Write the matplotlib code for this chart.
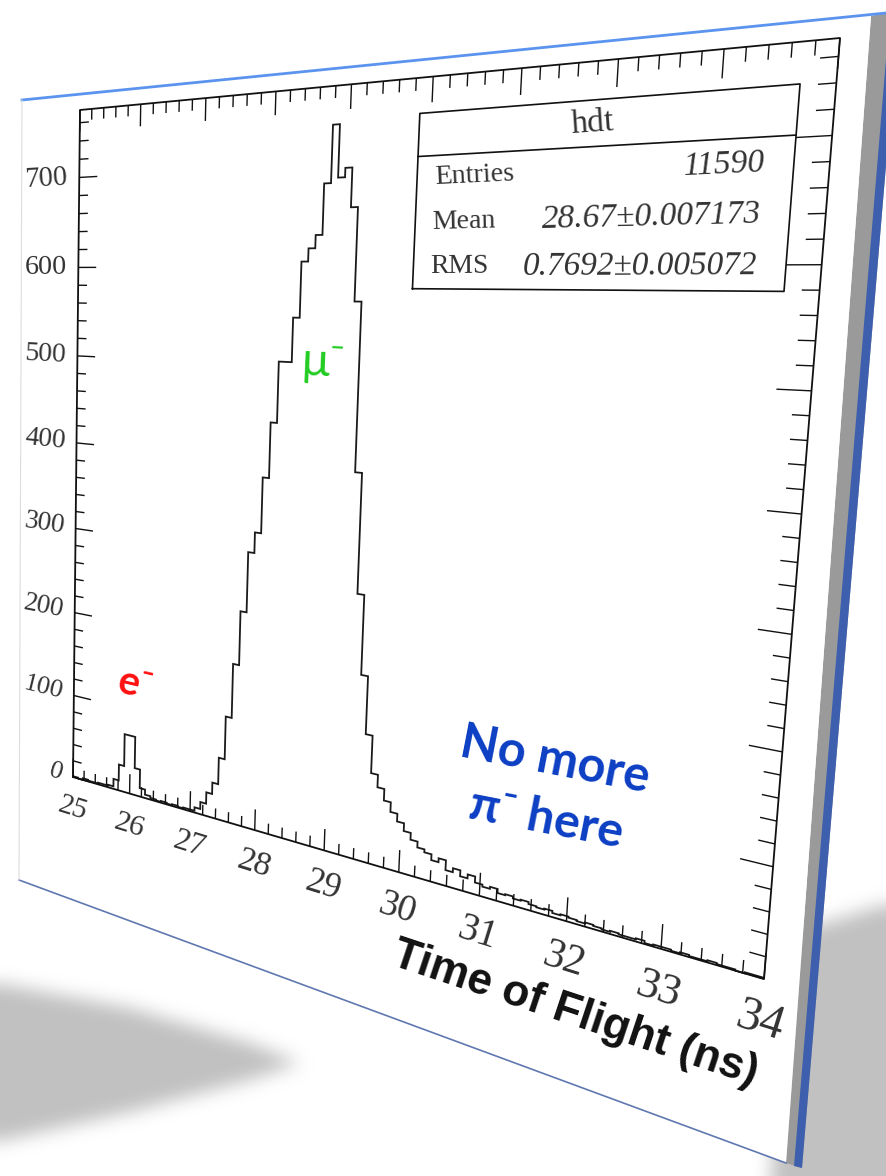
import numpy as np
import matplotlib
matplotlib.use("Agg")
import matplotlib.pyplot as plt
from matplotlib.transforms import Transform
from matplotlib.patches import Polygon
from matplotlib.collections import LineCollection
from matplotlib.path import Path

# ROOT histogram "hdt": 100 bins on [25, 34] ns, counts
x_lo, x_hi = 25.0, 34.0
counts = [1, 0, 2, 1, 1, 2, 2, 3, 12, 31,
          69, 69, 32, 10, 4, 2, 1, 2, 1, 2,
          1, 2, 2, 6, 14, 27, 40, 70, 118, 178,
          237, 302, 324, 383, 441, 504, 504, 549, 605, 618,
          631, 681, 737, 686, 695, 657, 566, 398, 276, 194,
          134, 95, 82, 70, 60, 52, 44, 37, 31, 28,
          22, 26, 16, 20, 14, 18, 12, 10, 12, 8,
          9, 7, 8, 6, 5, 6, 4, 5, 4, 3,
          4, 3, 2, 3, 2, 2, 3, 1, 2, 2,
          1, 2, 1, 1, 2, 1, 1, 0, 1, 1]
edges = np.linspace(x_lo, x_hi, len(counts) + 1)
y_top = 1.05 * max(counts)          # ROOT keeps 5% headroom

x_major = list(range(25, 35))
x_minor = [round(25 + 0.2 * i, 1) for i in range(46)]
y_major = [0, 100, 200, 300, 400, 500, 600, 700]
y_minor = list(range(0, 780, 20))

stat_title = 'hdt'
stat_names = ['Entries', 'Mean', 'RMS']
stat_values = ['11590', '28.67\u00b10.007173', '0.7692\u00b10.005072']
x_title = 'Time of Flight (ns)'

# ---- layout of the tilted sheet (reference pixels, y down) ----
W, H = 886, 1176
frame_px = {(0, 0): (73, 777), (1, 0): (764, 979), (1, 1): (840, 38), (0, 1): (80, 110)}
sheet = [(22, 100), (871, 16), (786, 1163), (19, 880)]
side = [(871, 16), (899, 10), (802, 1168), (786, 1163)]
side_blue = [(890, 11), (899, 10), (802, 1168), (794, 1166)]
shadows = [[(-30, 978), (130, 1008), (250, 1043), (300, 1063), (250, 1080), (130, 1112), (-30, 1148)],
           [(785, 935), (900, 900), (900, 1200), (770, 1200)]]


def homography(pairs):
    A, b = [], []
    for (u, v), (X, Y) in pairs.items():
        A.append([u, v, 1, 0, 0, 0, -u * X, -v * X]); b.append(X)
        A.append([0, 0, 0, u, v, 1, -u * Y, -v * Y]); b.append(Y)
    h = np.linalg.solve(np.array(A, float), np.array(b, float))
    return np.append(h, 1).reshape(3, 3)


class Perspective(Transform):
    input_dims = output_dims = 2
    is_separable = False
    has_inverse = True

    def __init__(self, M):
        super().__init__()
        self.M = np.asarray(M, float)

    def transform_non_affine(self, values):
        xy = np.asarray(values, float)
        shp = xy.shape
        xy = xy.reshape(-1, 2)
        p = np.column_stack([xy, np.ones(len(xy))]) @ self.M.T
        return (p[:, :2] / p[:, 2:3]).reshape(shp)

    def inverted(self):
        return Perspective(np.linalg.inv(self.M))


def blur(a, r, axis):
    pad = [(0, 0), (0, 0)]
    pad[axis] = (r + 1, r)
    c = np.cumsum(np.pad(a, pad, mode='edge'), axis=axis)
    n = a.shape[axis]
    hi = np.take(c, np.arange(2 * r + 1, 2 * r + 1 + n), axis=axis)
    lo = np.take(c, np.arange(0, n), axis=axis)
    return (hi - lo) / (2 * r + 1)


fig = plt.figure(figsize=(W / 100, H / 100), dpi=100, facecolor='white')
bg = fig.add_axes([0, 0, 1, 1])
bg.set_axis_off()

# soft drop shadow
yy, xx = np.mgrid[0:H, 0:W] + 0.5
pts = np.column_stack([xx.ravel(), yy.ravel()])
mask = np.zeros(H * W)
for poly in shadows:
    mask = np.maximum(mask, Path(poly).contains_points(pts))
mask = mask.reshape(H, W)
for _ in range(3):
    mask = blur(blur(mask, 8, 0), 8, 1)
rgba = np.zeros((H, W, 4))
rgba[..., :3] = 0.76
rgba[..., 3] = mask
bg.imshow(rgba, extent=(0, W, H, 0), aspect='auto', interpolation='bilinear', zorder=0)
bg.set_xlim(0, W)
bg.set_ylim(H, 0)

# the sheet itself
bg.add_patch(Polygon(side, closed=True, fc='#9a9a9a', ec='none', zorder=1))
bg.add_patch(Polygon(side_blue, closed=True, fc='#3d5fae', ec='none', zorder=1))
bg.add_patch(Polygon(sheet, closed=True, fc='white', ec='none', zorder=2))
bg.plot([sheet[0][0], 886], [sheet[0][1], 13], color='#5b94ee', lw=2, zorder=3)
bg.plot([sheet[3][0], sheet[2][0]], [sheet[3][1], sheet[2][1]], color='#6078b0', lw=1.2, zorder=3)
bg.plot([sheet[0][0], sheet[3][0]], [sheet[0][1], sheet[3][1]], color='#dddddd', lw=0.8, zorder=3)

# hidden axes: only its data -> unit square scales are used, then the perspective map
hx = fig.add_axes([0, 0, 1, 1])
hx.set_axis_off()
hx.set_xlim(x_lo, x_hi)
hx.set_ylim(0, y_top)
Tu = Perspective(homography(frame_px)) + bg.transData
T = hx.transScale + hx.transLimits + Tu


def local(u, v, d=1e-3):
    p0, pu, pv = Tu.transform(np.array([(u, v), (u + d, v), (u, v + d)]))
    eu, ev = (pu - p0) / d, (pv - p0) / d
    return np.degrees(np.arctan2(eu[1], eu[0])), np.sqrt(abs(eu[0] * ev[1] - eu[1] * ev[0]))


s0 = local(0, 0)[1]


def put(x, y, s, size, data=True, rot=None, **kw):
    u, v = hx.transLimits.transform((x, y)) if data else (x, y)
    ang, sc = local(u, v)
    return hx.text(u, v, s, transform=Tu, rotation=ang if rot is None else rot,
                   rotation_mode='anchor', fontsize=size * sc / s0, clip_on=False, **kw)


serif = 'Liberation Serif'
hx.stairs(counts, edges, baseline=0, color='#1a1a1a', lw=1.3, transform=T, clip_on=False)
hx.plot([x_lo, x_hi, x_hi, x_lo, x_lo], [0, 0, y_top, y_top, 0], color='#111111',
        lw=1.3, transform=T, clip_on=False)

tx_major, tx_minor = 0.03 * y_top, 0.015 * y_top
ty_major, ty_minor = 0.034 * (x_hi - x_lo), 0.017 * (x_hi - x_lo)
segs = []
for xv in x_minor:
    L = tx_major if abs(xv - round(xv)) < 1e-6 else tx_minor
    segs += [[(xv, 0), (xv, L)], [(xv, y_top), (xv, y_top - L)]]
for yv in y_minor:
    L = ty_major if yv % 100 == 0 else ty_minor
    segs += [[(x_lo, yv), (x_lo + L, yv)], [(x_hi, yv), (x_hi - L, yv)]]
hx.add_collection(LineCollection(segs, colors='#111111', linewidths=1.0, transform=T,
                                 clip_on=False), autolim=False)

for xv in x_major:
    put(xv, -0.05 * y_top, str(xv), 21, ha='center', va='center', family=serif,
        style='normal', color='#333333')
for yv in y_major:
    put(x_lo - 0.022 * (x_hi - x_lo), yv, str(yv), 19, ha='right', va='center',
        family=serif, style='normal', color='#333333')

# statistics box
u0, u1, v0, v1, vt = 0.54, 0.966, 0.748, 0.958, 0.907
hx.plot([u0, u1, u1, u0, u0], [v0, v0, v1, v1, v0], color='#111111', lw=1.2, transform=Tu, clip_on=False)
hx.plot([u0, u1], [vt, vt], color='#111111', lw=1.2, transform=Tu, clip_on=False)
put((u0 + u1) / 2, (vt + v1) / 2, stat_title, 15, data=False, ha='center', va='center',
    family=serif, style='normal', color='#333333')
for i, (name, val) in enumerate(zip(stat_names, stat_values)):
    vc = vt - (vt - v0) * (i + 0.5) / 3
    put(0.563, vc, name, 14, data=False, ha='left', va='center', family=serif,
        style='normal', color='#333333')
    put(0.938, vc, val, 13.5, data=False, ha='right', va='center', family=serif,
        style='italic', color='#333333')

# annotations
comic = ['Lato', 'DejaVu Sans']
put(28.76, 505, '\u03bc\u207b', 26, ha='center', va='center', family=comic, color='#22cc22')
put(26.06, 130, 'e\u207b', 27, ha='center', va='center', family=comic, weight='bold', color='#ff1010')
put(31.77, 150, 'No more', 24, rot=-11, ha='center', va='center',
    family=comic, weight='bold', color='#0d3fc4')
put(31.71, 92, '\u03c0\u207b here', 24, rot=-11, ha='center', va='center',
    family=comic, weight='bold', color='#0d3fc4')
put(x_hi, -0.112 * y_top, x_title, 19.5, ha='right', va='center', family='Liberation Sans',
    weight='bold', color='#111111')

fig.savefig('out.png', dpi=100, facecolor='white')
